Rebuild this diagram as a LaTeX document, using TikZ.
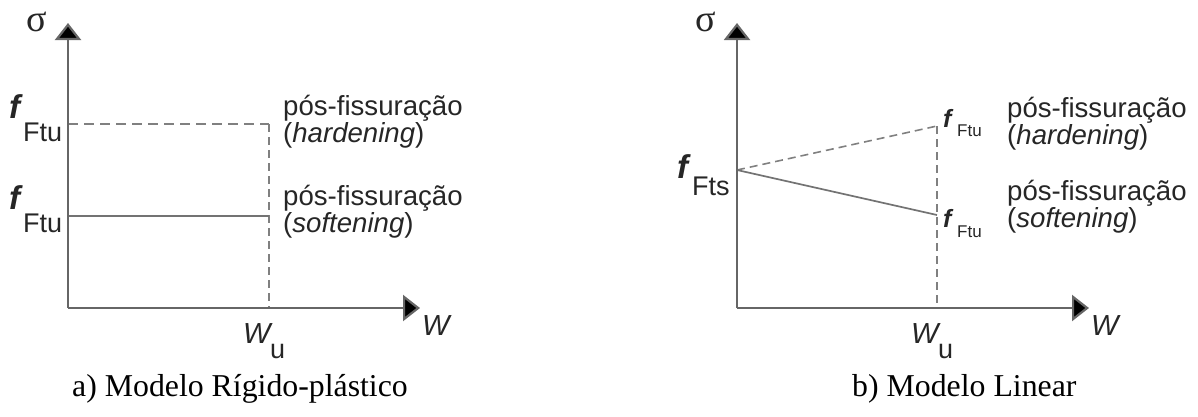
\documentclass[tikz,border=0pt]{standalone}
\usepackage{fontspec}
\setmainfont{Liberation Serif}
\newfontfamily\arial{Liberation Sans}
\usetikzlibrary{arrows.meta}
\tikzset{
  axis/.style={draw=black!60, line width=2.2pt, -{Triangle[length=17pt 0 0,width=26pt 0 0,fill=black]}},
  dash1/.style={draw=black!50, line width=1.9pt, dash pattern=on 10pt off 6pt},
  dash2/.style={draw=black!50, line width=1.6pt, dash pattern=on 8pt off 5pt},
  solidline/.style={draw=black!55, line width=1.7pt},
  txt/.style={inner sep=0pt, anchor=base west, text=black!85, font=\arial\fontsize{27.6}{28}\selectfont},
  fbig/.style={inner sep=0pt, anchor=base west, text=black!85, font=\arial\bfseries\itshape\fontsize{33}{33}\selectfont},
  fsub/.style={inner sep=0pt, anchor=base west, text=black!85, font=\arial\fontsize{27}{27}\selectfont},
  fsm/.style={inner sep=0pt, anchor=base west, text=black!85, font=\arial\bfseries\itshape\fontsize{25}{25}\selectfont},
  fsmsub/.style={inner sep=0pt, anchor=base west, text=black!85, font=\arial\fontsize{17}{17}\selectfont},
  wlab/.style={inner sep=0pt, anchor=base west, text=black!85, font=\arial\itshape\fontsize{29}{29}\selectfont},
  sig/.style={inner sep=0pt, text=black!85, font=\fontsize{38}{38}\selectfont},
  captxt/.style={inner sep=0pt, anchor=base west, font=\fontsize{31.8}{32}\selectfont},
}
\begin{document}
\begin{tikzpicture}[x=1pt,y=-1pt]
\useasboundingbox (0,0) rectangle (1198,416);
% ---------- left ----------
\coordinate (O1) at (68,308);
\coordinate (Y1) at (68,23);
\coordinate (X1) at (420,308);
\coordinate (H1a) at (68,124);
\coordinate (H1b) at (269,124);
\coordinate (W1) at (269,308);
\coordinate (S1a) at (68,216);
\coordinate (S1b) at (269,216);
\draw[dash1] (H1a) -- (H1b);
\draw[dash2] (H1b) -- (W1);
\draw[solidline] (S1a) -- (S1b);
\draw[axis] (O1) -- (Y1);
\draw[axis] (O1) -- (X1);
\node[sig] (sigL) at (37,22) {σ};
\node[fbig] (fL1) at (9,118) {f};
\node[fsub] (FL1) at (23,141) {Ftu};
\node[fbig] (fL2) at (9,209) {f};
\node[fsub] (FL2) at (23,232) {Ftu};
\node[txt] (tL1) at (283,115) {pós-fissuração};
\node[txt] (tL2) at (283,142) {(\textit{hardening})};
\node[txt] (tL3) at (283,205) {pós-fissuração};
\node[txt] (tL4) at (283,232) {(\textit{softening})};
\node[wlab] (WuL) at (243,343) {W};
\node[fsub] (uL) at (270,358) {u};
\node[wlab] (WL) at (422,335) {W};
\node[captxt] (capL) at (72,396) {a) Modelo Rígido-plástico};
% ---------- right ----------
\coordinate (O2) at (737,308);
\coordinate (Y2) at (737,23);
\coordinate (X2) at (1089,308);
\coordinate (P2) at (737,170);
\coordinate (H2) at (937,126);
\coordinate (S2) at (937,215);
\coordinate (W2) at (937,308);
\draw[dash2] (P2) -- (H2);
\draw[dash2] (H2) -- (W2);
\draw[solidline] (P2) -- (S2);
\draw[axis] (O2) -- (Y2);
\draw[axis] (O2) -- (X2);
\node[sig] (sigR) at (706,22) {σ};
\node[fbig] (fR0) at (677,178) {f};
\node[fsub] (FR0) at (692,195) {Fts};
\node[fsm] (fR1) at (943,127) {f};
\node[fsmsub] (FR1) at (957,136) {Ftu};
\node[fsm] (fR2) at (943,227) {f};
\node[fsmsub] (FR2) at (957,237) {Ftu};
\node[txt] (tR1) at (1007,117) {pós-fissuração};
\node[txt] (tR2) at (1007,144) {(\textit{hardening})};
\node[txt] (tR3) at (1007,200) {pós-fissuração};
\node[txt] (tR4) at (1007,227) {(\textit{softening})};
\node[wlab] (WuR) at (911,343) {W};
\node[fsub] (uR) at (938,358) {u};
\node[wlab] (WR) at (1091,335) {W};
\node[captxt] (capR) at (852,396) {b) Modelo Linear};
\end{tikzpicture}
\end{document}
